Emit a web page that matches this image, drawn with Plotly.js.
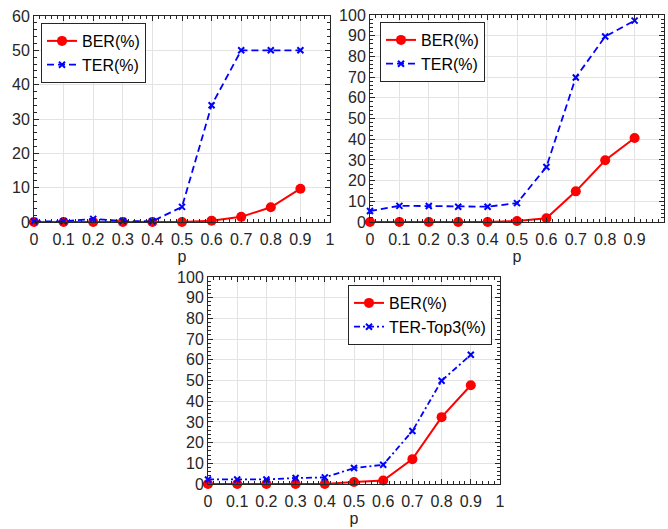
<!DOCTYPE html>
<html>
<head>
<meta charset="utf-8">
<script src="https://cdn.plot.ly/plotly-3.0.1.min.js"></script>
<style>html,body{margin:0;padding:0;background:#fff;}#chart{width:668px;height:529px;}</style>
</head>
<body>
<div id="chart"></div>
<script>
const p = [0, 0.1, 0.2, 0.3, 0.4, 0.5, 0.6, 0.7, 0.8, 0.9];
const xTicks = [0, 0.1, 0.2, 0.3, 0.4, 0.5, 0.6, 0.7, 0.8, 0.9, 1];
const xTickLabels = ["0", "0.1", "0.2", "0.3", "0.4", "0.5", "0.6", "0.7", "0.8", "0.9", "1"];

const ber1 = [0, 0, 0, 0, 0, 0, 0.4, 1.5, 4.3, 9.7];
const ter1 = [0.2, 0.2, 0.9, 0.3, 0.2, 4.4, 34, 50, 50, 50];

const ber2 = [0, 0, 0, 0, 0, 0.5, 1.8, 14.8, 29.8, 40.6];
const ter2 = [5.3, 7.8, 7.7, 7.4, 7.4, 9.1, 26.6, 69.8, 89.6, 97.3];

const ber3 = [0, 0, 0, 0, 0, 1.0, 1.7, 12.0, 32.3, 47.7];
const ter3 = [2.2, 2.2, 2.2, 2.9, 3.2, 7.7, 9.3, 25.6, 49.9, 62.4];

const labels = ["BER(%)", "TER(%)", "TER-Top3(%)"];

const RED = "#ff0000", BLUE = "#0000ff";
const FONT = "Liberation Sans, Arial, sans-serif";
const AX = "#262626";

function berTrace(y, xa, ya, lg) {
  return {x: p, y: y, xaxis: xa, yaxis: ya, legend: lg, name: labels[0], type: "scatter", mode: "lines+markers",
    line: {color: RED, width: 2}, marker: {symbol: "circle", size: 10, color: RED}, cliponaxis: false};
}
function terTrace(y, xa, ya, lg, name, dash) {
  return {x: p, y: y, xaxis: xa, yaxis: ya, legend: lg, name: name, type: "scatter", mode: "lines+markers",
    line: {color: BLUE, width: 1.8, dash: dash}, marker: {symbol: "x-thin", size: 6, color: BLUE, line: {color: BLUE, width: 2}}, cliponaxis: false};
}

const data = [
  berTrace(ber1, "x", "y", "legend"),
  terTrace(ter1, "x", "y", "legend", labels[1], "7px,4px"),
  berTrace(ber2, "x2", "y2", "legend2"),
  terTrace(ter2, "x2", "y2", "legend2", labels[1], "7px,4px"),
  berTrace(ber3, "x3", "y3", "legend3"),
  terTrace(ter3, "x3", "y3", "legend3", labels[2], "6px,3px,2px,3px")
];

function xaxis(domain, anchor) {
  return {domain: domain, anchor: anchor, range: [0, 1], tickvals: xTicks, ticktext: xTickLabels,
    ticks: "inside", ticklen: 5, tickcolor: AX, showline: true, linecolor: AX, linewidth: 1, mirror: "ticks",
    showgrid: true, gridcolor: "#e3e3e3", zeroline: false,
    minor: {ticks: "inside", ticklen: 3, dtick: 0.02, tickcolor: AX, showgrid: false},
    tickfont: {family: FONT, size: 16, color: AX}, ticklabelstandoff: 3,
    title: {text: "p", font: {family: FONT, size: 16, color: AX}, standoff: 3}};
}
function yaxis(domain, anchor, max) {
  return {domain: domain, anchor: anchor, range: [0, max], dtick: 10,
    ticks: "inside", ticklen: 5, tickcolor: AX, showline: true, linecolor: AX, linewidth: 1, mirror: "ticks",
    showgrid: true, gridcolor: "#e3e3e3", zeroline: false,
    minor: {ticks: "inside", ticklen: 3, dtick: 2, tickcolor: AX, showgrid: false},
    tickfont: {family: FONT, size: 16, color: AX}};
}
function legend(x, y) {
  return {x: x, y: y, xanchor: "left", yanchor: "top", bgcolor: "#fff", bordercolor: AX, borderwidth: 1,
    font: {family: FONT, size: 16, color: "#000"}, itemwidth: 30, tracegroupgap: 0};
}

const H = 529, W = 668;
const layout = {
  width: W, height: H, margin: {l: 0, r: 0, t: 0, b: 0}, paper_bgcolor: "#fff", plot_bgcolor: "#fff",
  xaxis: xaxis([34 / W, 330 / W], "y"),
  yaxis: yaxis([(H - 222) / H, (H - 16) / H], "x", 60),
  xaxis2: xaxis([370 / W, 664 / W], "y2"),
  yaxis2: yaxis([(H - 222) / H, (H - 15) / H], "x2", 100),
  xaxis3: xaxis([208 / W, 500 / W], "y3"),
  yaxis3: yaxis([(H - 484) / H, (H - 277) / H], "x3", 100),
  legend: legend(41 / W, (H - 23) / H),
  legend2: legend(380 / W, (H - 22) / H),
  legend3: legend(348 / W, (H - 285) / H),
  showlegend: true
};

Plotly.newPlot("chart", data, layout, {displayModeBar: false, staticPlot: true});
</script>
</body>
</html>
